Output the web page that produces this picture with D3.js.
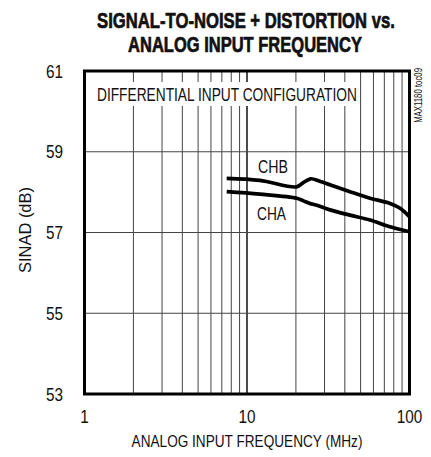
<!DOCTYPE html>
<html><head><meta charset="utf-8">
<script src="https://cdn.jsdelivr.net/npm/d3@7"></script>
<style>
html,body{margin:0;padding:0;background:#fff;}
svg{display:block;}
text{font-family:"Liberation Sans",Arial,sans-serif;fill:#111;}
</style></head>
<body>
<svg id="c" width="431" height="457"></svg>
<script>
const titleLines = ["SIGNAL-TO-NOISE + DISTORTION vs.", "ANALOG INPUT FREQUENCY"];
const xLabel = "ANALOG INPUT FREQUENCY (MHz)";
const yLabel = "SINAD (dB)";
const note = "DIFFERENTIAL INPUT CONFIGURATION";
const docId = "MAX1180 toc09";
const xTicks = [1, 10, 100];
const yTicks = [53, 55, 57, 59, 61];
const freqB = [7.5, 12, 20.2, 22.1, 24.6, 28, 32.4, 43, 57.1, 75.9, 87.5, 100];
const chb   = [58.34, 58.29, 58.13, 58.23, 58.33, 58.27, 58.18, 58.01, 57.85, 57.72, 57.60, 57.39];
const freqA = [7.5, 12, 20.2, 22.1, 24.4, 26.6, 32.4, 43, 57.1, 75.9, 100];
const cha   = [58.01, 57.95, 57.85, 57.79, 57.72, 57.68, 57.56, 57.43, 57.31, 57.14, 57.02];
const seriesLabels = ["CHB", "CHA"];

const svg = d3.select("#c");
const L = 84.5, R = 409.5, T = 71, B = 394;
const x = d3.scaleLog().domain([1, 100]).range([L, R]);
const y = d3.scaleLinear().domain([53, 61]).range([B, T]);

function label(parent, str, px, py, size, opts = {}) {
  const g = parent.append("g");
  const t = g.append("text").attr("x", 0).attr("y", 0).attr("font-size", size)
    .attr("text-anchor", opts.anchor || "start")
    .attr("font-weight", opts.weight || "normal").text(str);
  if (opts.stroke) t.attr("stroke", "#111").attr("stroke-width", opts.stroke);
  let sx = opts.sx || 0.82;
  if (opts.width) sx = opts.width / t.node().getComputedTextLength();
  g.attr("transform", `translate(${px},${py}) rotate(${opts.rot || 0}) scale(${sx},1)`);
  return g;
}

// title
label(svg, titleLines[0], 246, 28, 22, {anchor: "middle", weight: "bold", width: 298, stroke: 0.7});
label(svg, titleLines[1], 245, 51.5, 22, {anchor: "middle", weight: "bold", width: 234, stroke: 0.7});

// grid
const minor = [];
[1, 10].forEach(d => { for (let k = 2; k <= 9; k++) minor.push(d * k); });
svg.append("g").selectAll("line").data(minor).join("line")
  .attr("x1", d => x(d)).attr("x2", d => x(d)).attr("y1", T).attr("y2", B)
  .attr("stroke", "#444").attr("stroke-width", 1);
svg.append("line").attr("x1", x(10)).attr("x2", x(10)).attr("y1", T).attr("y2", B)
  .attr("stroke", "#111").attr("stroke-width", 1.5);
svg.append("g").selectAll("line").data(yTicks.slice(1, -1)).join("line")
  .attr("x1", L).attr("x2", R).attr("y1", d => y(d)).attr("y2", d => y(d))
  .attr("stroke", "#444").attr("stroke-width", 1);

// note with white background
svg.append("rect").attr("x", 91).attr("y", 82).attr("width", 268).attr("height", 24).attr("fill", "#fff");
label(svg, note, 97, 100.5, 18, {width: 260});

// curves
const line = d3.line().x(d => x(d[0])).y(d => y(d[1])).curve(d3.curveCatmullRom.alpha(0.5));
svg.append("path").datum(freqB.map((f, i) => [f, chb[i]])).attr("d", line)
  .attr("fill", "none").attr("stroke", "#000").attr("stroke-width", 3.7);
svg.append("path").datum(freqA.map((f, i) => [f, cha[i]])).attr("d", line)
  .attr("fill", "none").attr("stroke", "#000").attr("stroke-width", 3.7);

label(svg, seriesLabels[0], 273, 173, 18, {anchor: "middle", width: 30});
label(svg, seriesLabels[1], 271.5, 220, 18, {anchor: "middle", width: 29});

// frame
svg.append("rect").attr("x", L).attr("y", T).attr("width", R - L).attr("height", B - T)
  .attr("fill", "none").attr("stroke", "#000").attr("stroke-width", 3);

// axes labels
yTicks.forEach(d => label(svg, String(d), 63, y(d) + 6.5, 18, {anchor: "end", sx: 0.85}));
xTicks.forEach(d => label(svg, String(d), x(d), 423, 18, {anchor: "middle", sx: 0.85}));
label(svg, xLabel, 247, 447, 17, {anchor: "middle", width: 231});
label(svg, yLabel, 31, 230, 17, {anchor: "middle", rot: -90, width: 86});
label(svg, docId, 422, 68, 11, {anchor: "end", rot: -90, width: 55});
</script>
</body></html>
